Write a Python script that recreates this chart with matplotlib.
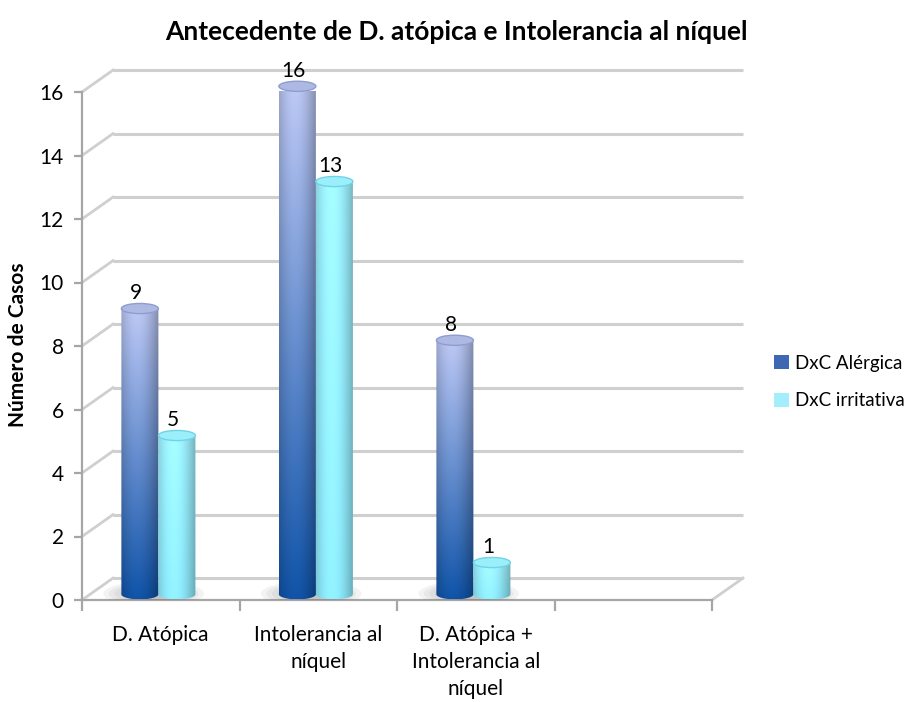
import numpy as np
import matplotlib.pyplot as plt
from matplotlib.patches import Ellipse, PathPatch, Patch
from matplotlib.path import Path
import matplotlib.transforms as mtransforms
from matplotlib.colors import to_rgb

categories = ['D. Atópica', 'Intolerancia al\nníquel', 'D. Atópica +\nIntolerancia al\nníquel']
alergica = [9, 16, 8]
irritativa = [5, 13, 1]
series_names = ['DxC Alérgica', 'DxC irritativa']
yticks = np.arange(0, 17, 2)

plt.rcParams['font.family'] = ['Lato', 'DejaVu Sans']

W, H = 920, 702
fig = plt.figure(figsize=(W / 100, H / 100), dpi=100)
ax = fig.add_axes([82 / W, 1 - 600 / H, 630 / W, 508 / H])
ax.patch.set_visible(False)

# fake depth of the 3d box, in data units
DX, DY = 0.197, 0.69
BASE = 0.18      # bars stand a bit behind the front edge
EH = 0.32        # height of the cylinder ellipses
BW = 0.235       # cylinder width

grid_c = '#cfcfcf'
for v in yticks:
    ax.plot([DX, 4 + DX], [v + DY, v + DY], color=grid_c, lw=2.2,
            clip_on=False, zorder=1, solid_capstyle='butt')
    ax.plot([0, DX], [v, v + DY], color=grid_c, lw=2.0, clip_on=False, zorder=1)
ax.plot([4, 4 + DX], [0, DY], color=grid_c, lw=2.0, clip_on=False, zorder=1)


def cylinder(x0, v, top, bottom, edge_top, top_fill):
    nx, ny = 60, 200
    t = np.linspace(0, 1, nx)
    shade = 0.74 + 0.32 * np.cos(np.clip((t - 0.42) / 0.58, -1, 1) * np.pi / 2)
    s = np.linspace(0, 1, ny)[:, None, None]
    col = np.array(to_rgb(top)) * (1 - s) + np.array(to_rgb(bottom)) * s
    img = np.clip(col * shade[None, :, None], 0, 1)
    x1 = x0 + BW
    xc = x0 + BW / 2
    ang = np.linspace(np.pi, 2 * np.pi, 40)
    verts = [(x0, v + BASE)]
    verts += [(xc + BW / 2 * np.cos(a), BASE + EH / 2 * np.sin(a)) for a in ang]
    verts += [(x1, v + BASE), (x0, v + BASE)]
    clip = PathPatch(Path(verts, closed=True), transform=ax.transData)
    im = ax.imshow(img, extent=(x0, x1, BASE - EH / 2, v + BASE), origin='upper',
                   aspect='auto', zorder=4, interpolation='bilinear')
    im.set_clip_path(clip)
    im.set_clip_box(None)
    ax.add_patch(Ellipse((xc, v + BASE), BW, EH, facecolor=top_fill,
                         edgecolor=edge_top, lw=1.0, zorder=5, clip_on=False))


lab_tr = mtransforms.offset_copy(ax.transData, fig=fig, x=-4, y=0, units='dots')
for i in range(len(categories)):
    x0 = i + 0.25
    pc = x0 + BW
    for k in range(6):
        ax.add_patch(Ellipse((pc - 0.03, BASE + 0.02), 0.64 - k * 0.07, 0.8 - k * 0.1,
                             facecolor='#707070', alpha=0.08, lw=0, zorder=3))
    cylinder(x0, alergica[i], '#b3bee8', '#0f4f9f', '#8f9cd0', '#aeb9e3')
    cylinder(x0 + BW, irritativa[i], '#9cf0fd', '#8ae6f7', '#72d2e6', '#9aeffb')
    ax.text(x0 + BW / 2, alergica[i] + BASE + EH / 2, str(alergica[i]), transform=lab_tr,
            ha='center', va='bottom', fontsize=15, zorder=6)
    ax.text(x0 + 1.5 * BW, irritativa[i] + BASE + EH / 2, str(irritativa[i]), transform=lab_tr,
            ha='center', va='bottom', fontsize=15, zorder=6)

ax.set_xlim(0, 4)
ax.set_ylim(0, 16)
for sp in ['top', 'right']:
    ax.spines[sp].set_visible(False)
for sp in ['left', 'bottom']:
    ax.spines[sp].set_color('#a6a6a6')
    ax.spines[sp].set_linewidth(1.6)
    ax.spines[sp].set_zorder(2)

ax.set_yticks(yticks)
ax.tick_params(axis='y', length=6, width=1.6, color='#a6a6a6', pad=7, labelsize=15)
ax.set_xticks(range(5))
ax.set_xticklabels([])
ax.set_xticks([0.5, 1.5, 2.5], minor=True)
ax.set_xticklabels(categories, minor=True, linespacing=1.45)
ax.tick_params(axis='x', which='major', length=8, width=1.6, color='#a6a6a6')
ax.tick_params(axis='x', which='minor', length=0, pad=18, labelsize=15)

fig.text(18 / W, 1 - 345 / H, 'Número de Casos', rotation=90, fontweight='bold',
         fontsize=15, ha='center', va='center')
fig.text(456 / W, 1 - 32 / H, 'Antecedente de D. atópica e Intolerancia al níquel',
         fontweight='bold', fontsize=19, ha='center', va='center')

handles = [Patch(facecolor='#3f68b4', edgecolor='none'),
           Patch(facecolor='#a2eefc', edgecolor='none')]
fig.legend(handles, series_names, loc='center left', bbox_to_anchor=(768 / W, 1 - 382 / H),
           frameon=False, fontsize=13.5, handlelength=0.8, handleheight=0.8,
           labelspacing=1.1, handletextpad=0.35, borderaxespad=0, borderpad=0.3)

fig.savefig('out.png', dpi=100)
